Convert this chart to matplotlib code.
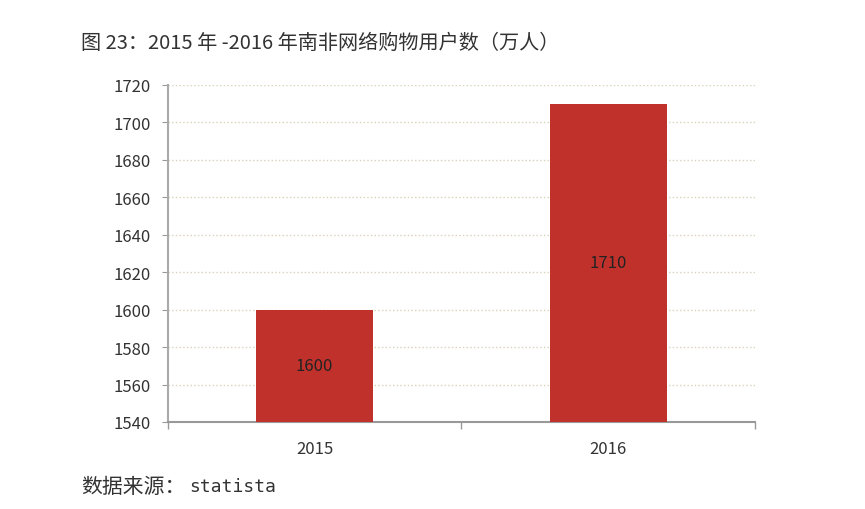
import matplotlib.pyplot as plt
from matplotlib.ticker import FixedLocator

plt.rcParams['font.family'] = ['Noto Sans CJK SC', 'DejaVu Sans']

years = ['2015', '2016']
users = [1600, 1710]

fig = plt.figure(figsize=(8.65, 5.1), dpi=100)
ax = fig.add_axes([0.194, 0.1706, 0.679, 0.6608])

x = range(len(years))
ax.bar(x, users, width=0.4, color='#C1312B', zorder=3)
ax.set_xlim(-0.5, 1.5)
ax.set_ylim(1540, 1720)
ax.set_yticks(range(1540, 1721, 20))
ax.set_xticks(list(x))
ax.set_xticklabels(years, fontsize=12, color='#333333')
ax.xaxis.set_minor_locator(FixedLocator([-0.5, 0.5, 1.5]))
ax.tick_params(axis='x', which='major', length=0, pad=13)
ax.tick_params(axis='x', which='minor', length=5, color='#999999', width=1)
ax.tick_params(axis='y', length=4.5, color='#999999', labelsize=12,
               labelcolor='#333333', pad=8)

ax.grid(axis='y', linestyle=':', color='#D8D2B8', linewidth=1, zorder=0)
for s in ['top', 'right']:
    ax.spines[s].set_visible(False)
ax.spines['left'].set_color('#AAAAAA')
ax.spines['bottom'].set_color('#999999')
ax.spines['left'].set_linewidth(1.5)
ax.spines['bottom'].set_linewidth(1.5)

for i, v in zip(x, users):
    ax.text(i, (1540 + v) / 2, str(v), ha='center', va='center',
            fontsize=12, color='#222222', zorder=4)

fig.text(0.094, 0.914, '图 23：2015 年 -2016 年南非网络购物用户数（万人）',
         fontsize=14.5, color='#333333', va='center')
fig.text(0.094, 0.045, '数据来源：', fontsize=15, color='#333333', va='center')
fig.text(0.219, 0.045, 'statista', fontsize=13, color='#333333', va='center',
         family='DejaVu Sans Mono')

fig.savefig('out.png', dpi=100, facecolor='white')
